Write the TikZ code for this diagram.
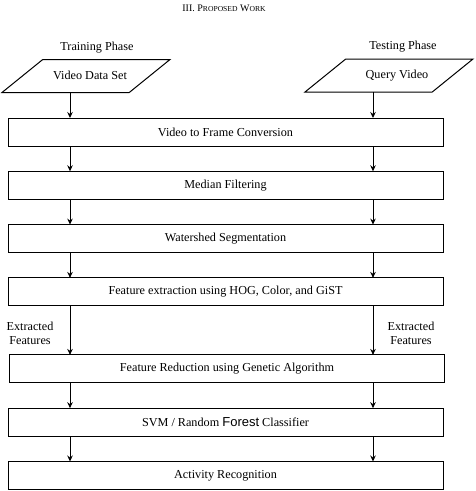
\documentclass[tikz,border=0pt]{standalone}
\usepackage{fontspec}
\setmainfont{Liberation Serif}
\newfontfamily\forestfont{Liberation Sans}
\usepackage{tikz}
\usetikzlibrary{arrows.meta,positioning,shapes.geometric}

\begin{document}
\begin{tikzpicture}
[x=1pt, y=-1pt, node distance=25.3pt, font=\fontsize{12.2}{14}\selectfont, >={Stealth[length=6pt,width=5.5pt]},
% STYLES
% The stage style is used to draw each processing step
stage/.style={rectangle, draw, line width=1pt, outer sep=0pt, minimum width=435pt, minimum height=28pt, inner sep=0pt},
% The input style is used to draw the video sources
input/.style={trapezium, draw, line width=1pt, outer sep=0pt, trapezium left angle=39, trapezium right angle=141, trapezium stretches body=true, text height=8.5pt, text depth=2.5pt, inner ysep=11pt, inner xsep=0pt, minimum width=168pt},
% The phase style is used for the captions
phase/.style={inner sep=0pt, align=center}]

\useasboundingbox (0,0) rectangle (475,491);

% Title
\node [phase, font=\fontsize{10}{12}\selectfont] (title) at (224,8) {III. P{\fontsize{7.6}{9}\selectfont ROPOSED} W{\fontsize{7.6}{9}\selectfont ORK}};

% Draw inputs
\node [input] (train) at (86,76) {\hspace*{8pt}Video Data Set};
\node [input] (test) at (389,75.5) {\hspace*{16pt}Query Video};
\node [phase] (trainphase) at (97,48) {Training Phase};
\node [phase] (testphase) at (403,47) {Testing Phase};

% Draw stages
\node [stage] (convert) at (225.5,132) {Video to Frame Conversion};
\node [stage, below=of convert] (median) {Median Filtering};
\node [stage, below=of median] (watershed) {Watershed Segmentation};
\node [stage, below=of watershed] (extract) {Feature extraction using HOG, Color, and GiST};
\node [stage, below=49pt of extract, xshift=1.5pt] (reduce) {Feature Reduction using Genetic Algorithm};
\node [stage, below=of reduce, xshift=-1.5pt] (classify) {SVM / Random {\forestfont\fontsize{13}{14}\selectfont Forest} Classifier};
\node [stage, below=of classify] (recognize) {Activity Recognition};

% Side notes
\node [phase] (trainnote) at (30,333) {Extracted\\Features};
\node [phase] (testnote) at (411,333.5) {Extracted\\Features};

% the two lanes
\coordinate (trainlane) at (70,0);
\coordinate (testlane) at (373,0);

% Draw the links between stages
\path[->, line width=1pt]
(train.south -| trainlane) edge (convert.north -| trainlane)
(test.south -| testlane) edge (convert.north -| testlane)
(convert.south -| trainlane) edge (median.north -| trainlane)
(convert.south -| testlane) edge (median.north -| testlane)
(median.south -| trainlane) edge (watershed.north -| trainlane)
(median.south -| testlane) edge (watershed.north -| testlane)
(watershed.south -| trainlane) edge (extract.north -| trainlane)
(watershed.south -| testlane) edge (extract.north -| testlane)
(extract.south -| trainlane) edge (reduce.north -| trainlane)
(extract.south -| testlane) edge (reduce.north -| testlane)
(reduce.south -| trainlane) edge (classify.north -| trainlane)
(reduce.south -| testlane) edge (classify.north -| testlane)
(classify.south -| trainlane) edge (recognize.north -| trainlane)
(classify.south -| testlane) edge (recognize.north -| testlane);

\end{tikzpicture}
\end{document}
